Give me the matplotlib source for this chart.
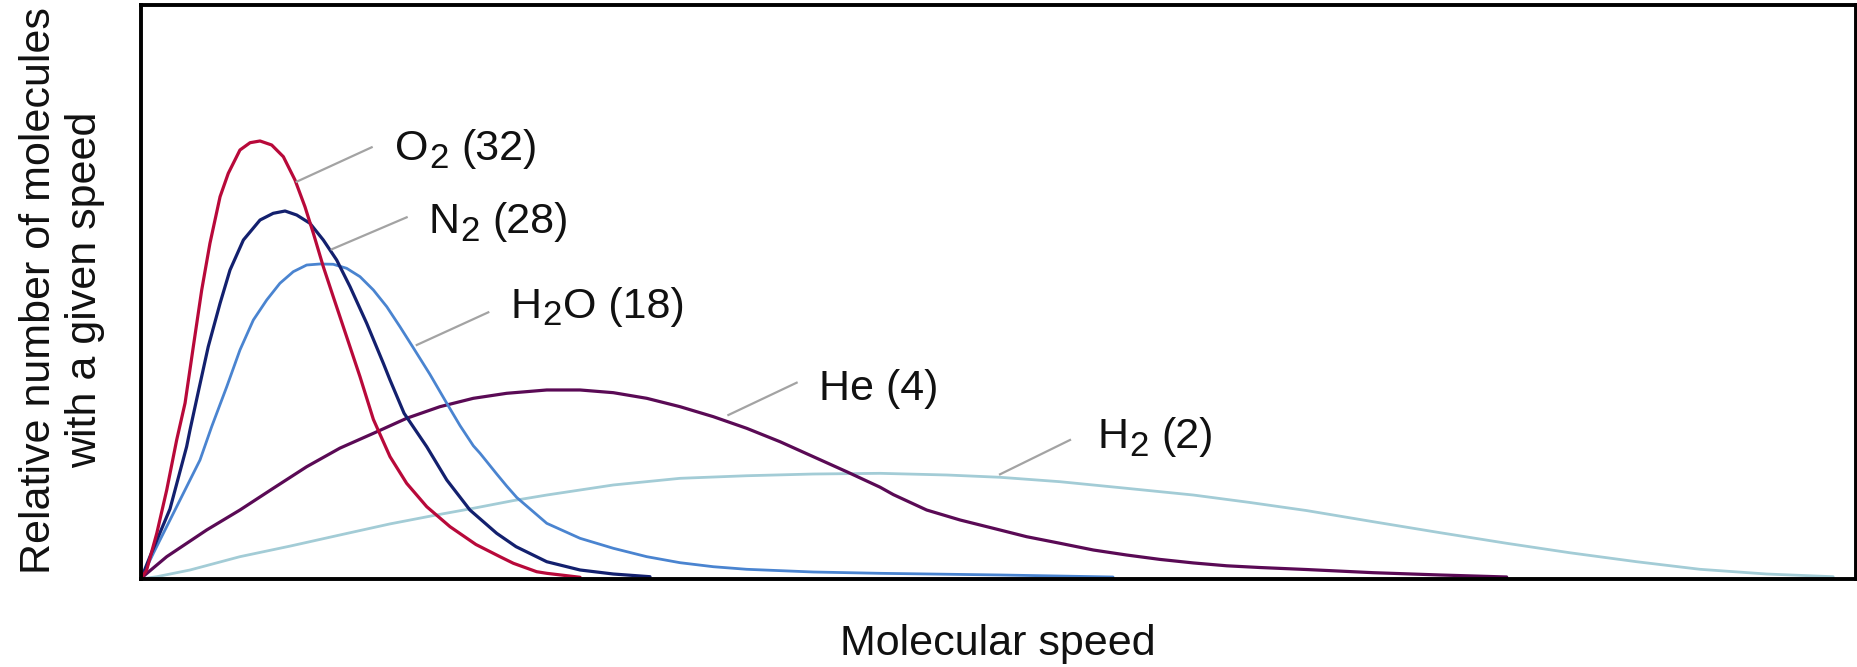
import matplotlib
matplotlib.use("Agg")
import matplotlib.pyplot as plt
from matplotlib.transforms import offset_copy

plt.rcParams['font.family'] = ['Liberation Sans', 'DejaVu Sans']

# ---- data (relative speed 0-100, relative number 0-100) ----
o2_x = [0, 0.33, 0.92, 1.50, 2.08, 2.57, 3.05, 3.54, 4.02, 4.61, 5.09, 5.77, 6.36, 6.94, 7.62, 8.30,
        8.98, 9.56, 10.05, 10.63, 11.21, 11.99, 12.77, 13.55, 14.52, 15.49, 16.66, 18.02, 19.53,
        20.93, 21.71, 23.07, 23.66, 25.60]
o2_y = [0, 1.57, 7.96, 15.51, 24.22, 30.66, 40.47, 50.35, 58.48, 66.60, 70.68, 74.74, 76.01, 76.31,
        75.61, 73.57, 69.51, 64.86, 60.23, 54.41, 49.18, 42.21, 35.24, 27.80, 21.31, 16.67, 12.60,
        9.11, 6.01, 3.89, 2.74, 1.27, 0.99, 0.30]

n2_x = [0, 0.52, 1.69, 2.66, 2.86, 3.34, 3.92, 4.61, 5.19, 5.97, 6.94, 7.71, 8.40, 9.08, 9.85, 10.63,
        11.41, 12.19, 13.16, 14.13, 14.52, 15.34, 16.66, 17.83, 19.18, 20.74, 21.87, 23.66, 25.60,
        27.54, 29.68]
n2_y = [0, 3.89, 12.2, 23.05, 26.0, 32.6, 40.47, 48.03, 53.83, 59.06, 62.54, 63.71, 64.11, 63.41,
        61.97, 59.06, 55.57, 50.92, 44.55, 37.58, 34.67, 28.87, 23.05, 17.25, 12.02, 7.96, 5.63,
        3.01, 1.57, 0.87, 0.40]

h2o_x = [0, 0.72, 2.08, 3.44, 4.12, 5.00, 5.77, 6.55, 7.33, 8.10, 8.88, 9.66, 10.44, 11.21, 11.99,
         12.77, 13.55, 14.33, 15.10, 15.88, 16.85, 17.83, 18.60, 19.38, 19.77, 20.74, 21.32, 21.91,
         23.66, 25.60, 27.54, 29.49, 31.43, 33.37, 35.32, 39.20, 43.09, 50.09, 56.68]
h2o_y = [0, 4.48, 12.60, 20.73, 26.53, 33.50, 39.90, 45.12, 48.61, 51.52, 53.54, 54.70, 54.88, 54.83,
         54.13, 52.67, 50.35, 47.44, 43.95, 40.27, 35.64, 30.61, 26.73, 23.20, 21.90, 18.30, 16.20,
         14.20, 9.70, 7.09, 5.35, 3.89, 2.84, 2.14, 1.69, 1.22, 0.99, 0.70, 0.35]

he_x = [0, 0.23, 1.50, 3.83, 5.77, 7.71, 9.66, 11.60, 13.55, 15.49, 17.43, 19.38, 21.32, 23.66, 25.60,
        27.54, 29.49, 31.43, 33.37, 35.32, 37.26, 39.20, 41.15, 43.09, 43.87, 45.81, 47.76, 49.70,
        51.64, 53.59, 55.53, 57.47, 59.42, 61.36, 63.31, 65.25, 67.97, 71.85, 75.74, 79.63]
he_y = [0, 0.70, 3.89, 8.54, 12.02, 15.80, 19.56, 22.80, 25.38, 28.00, 30.02, 31.48, 32.35, 32.93,
        32.93, 32.46, 31.48, 30.02, 28.28, 26.25, 23.92, 21.31, 18.69, 16.00, 14.70, 12.02, 10.28,
        8.83, 7.37, 6.22, 5.05, 4.18, 3.41, 2.80, 2.30, 2.00, 1.65, 1.10, 0.70, 0.35]

h2_x = [0, 0.92, 2.86, 5.77, 8.69, 11.60, 14.52, 17.04, 19.38, 21.71, 23.66, 27.54, 31.43, 35.32,
        39.20, 43.09, 46.98, 50.09, 53.59, 57.47, 61.36, 64.66, 67.97, 71.85, 75.74, 79.63, 83.32,
        87.21, 90.90, 94.79, 98.67]
h2_y = [0, 0.40, 1.57, 3.89, 5.73, 7.67, 9.60, 11.05, 12.32, 13.66, 14.63, 16.38, 17.54, 17.99,
        18.29, 18.41, 18.12, 17.72, 16.95, 15.80, 14.63, 13.33, 11.92, 9.98, 8.07, 6.22, 4.57,
        3.01, 1.69, 0.87, 0.40]

# label text split into main part, subscript, remainder
label_main = ['O', 'N', 'H', 'He (4)', 'H']
label_sub = ['2', '2', '2', '', '2']
label_rest = [' (32)', ' (28)', 'O (18)', '', ' (2)']
label_x = [14.81, 16.79, 21.56, 39.53, 55.77]
label_y = [73.0, 60.2, 45.5, 31.1, 22.8]
leader_x0 = [9.08, 11.12, 16.08, 34.25, 50.09]
leader_y0 = [69.22, 57.44, 40.77, 28.57, 18.24]
leader_x1 = [13.45, 15.49, 20.25, 38.23, 54.17]
leader_y1 = [75.21, 63.01, 46.46, 34.20, 24.22]

xlabel = 'Molecular speed'
ylabel = 'Relative number of molecules\nwith a given speed'

# ---- figure ----
W, H = 1858, 667
fig = plt.figure(figsize=(W / 100, H / 100), dpi=100)
ax = fig.add_axes([141 / W, (H - 579) / H, 1715 / W, 574 / H])

series = [
    (h2_x, h2_y, '#a3ccd6', 2.0),
    (he_x, he_y, '#5a0a55', 2.3),
    (h2o_x, h2o_y, '#4a84d0', 2.0),
    (n2_x, n2_y, '#13206e', 2.3),
    (o2_x, o2_y, '#b8093a', 2.3),
]
for xs, ys, c, lw in series:
    ax.plot(xs, ys, color=c, lw=lw, solid_capstyle='round', solid_joinstyle='round')

ax.set_xlim(0, 100)
ax.set_ylim(0, 100)
ax.set_xticks([])
ax.set_yticks([])
for s in ax.spines.values():
    s.set_linewidth(2.8)
    s.set_color('black')

FS = 31
SUB_FS = 25
SUB_DROP = 5.5  # points
renderer = fig.canvas.get_renderer()
for i in range(len(label_main)):
    ax.plot([leader_x0[i], leader_x1[i]], [leader_y0[i], leader_y1[i]], color='#a3a3a3', lw=1.6)
    t = ax.text(label_x[i], label_y[i], label_main[i], fontsize=FS, color='#111111',
                ha='left', va='baseline')
    adv = t.get_window_extent(renderer).width * 72 / fig.dpi
    if label_sub[i]:
        ts = ax.text(label_x[i], label_y[i], label_sub[i], fontsize=SUB_FS, color='#111111',
                     ha='left', va='baseline',
                     transform=offset_copy(ax.transData, fig=fig, x=adv + 0.5, y=-SUB_DROP, units='points'))
        adv += ts.get_window_extent(renderer).width * 72 / fig.dpi + 0.5
    if label_rest[i]:
        rest = label_rest[i]
        extra = 0.0
        if rest.startswith(' '):
            rest = rest[1:]
            extra = FS * 0.278
        ax.text(label_x[i], label_y[i], rest, fontsize=FS, color='#111111',
                ha='left', va='baseline',
                transform=offset_copy(ax.transData, fig=fig, x=adv + extra + 0.5, y=0, units='points'))

fig.text(998 / W, 12 / H, xlabel, fontsize=FS, ha='center', va='baseline', color='#111111')
fig.text(62 / W, 0.565, ylabel, fontsize=FS, ha='center', va='center', rotation=90,
         multialignment='center', color='#111111')

fig.savefig('out.png', dpi=100)
